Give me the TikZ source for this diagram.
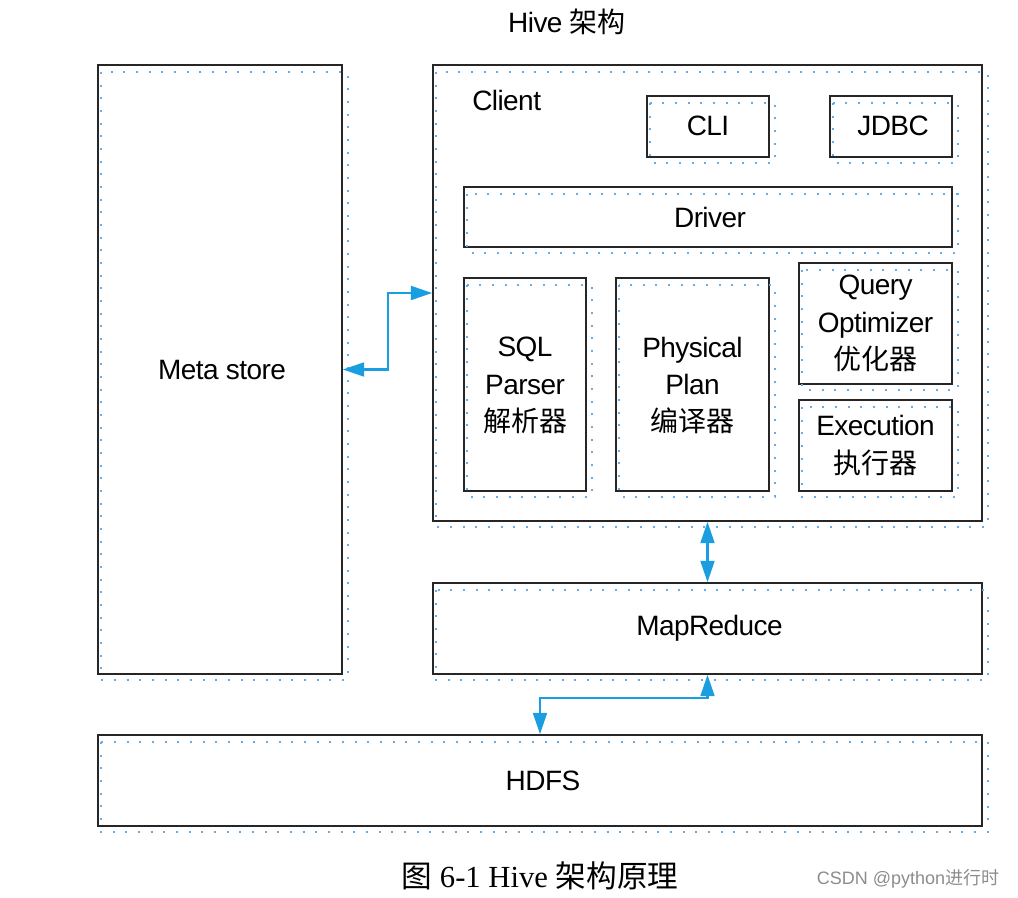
\documentclass[tikz,border=0pt]{standalone}
\usepackage{fontspec}
\setmainfont{Liberation Sans}[LetterSpace=-2]
\newfontfamily\cjk{Noto Sans CJK SC}
\newfontfamily\capserif{Liberation Serif}
\newfontfamily\wmfont{Liberation Sans}
\usetikzlibrary{arrows.meta,fit}
\definecolor{arrowblue}{RGB}{27,158,224}
\definecolor{gridblue}{RGB}{50,145,230}
\begin{document}
\begin{tikzpicture}[x=0.75pt,y=-0.75pt,
  box/.style={draw=black!85, line width=1.3pt, inner sep=0pt},
  lbl/.style={inner sep=0pt, align=center, font=\fontsize{21}{28}\selectfont},
  gridline/.style={draw=gridblue!75, line width=1pt, dash pattern=on 1.5pt off 8pt},
  biarrow/.style={draw=arrowblue, line width=1.6pt,
    {Triangle[length=16pt,width=10.5pt]}-{Triangle[length=16pt,width=10.5pt]}}
]
\useasboundingbox (0,0) rectangle (1018,898);

\node[lbl] (title) at (567,22) {Hive {\cjk 架构}};

\node[box, fit={(98,65)(342,674)}] (meta) {};
\node[box, fit={(433,65)(982,521)}] (client) {};
\node[box, fit={(647,96)(769,157)}] (cli) {};
\node[box, fit={(830,96)(952,157)}] (jdbc) {};
\node[box, fit={(464,187)(952,247)}] (driver) {};
\node[box, fit={(464,278)(586,491)}] (sql) {};
\node[box, fit={(616,278)(769,491)}] (plan) {};
\node[box, fit={(799,263)(952,384)}] (opt) {};
\node[box, fit={(799,400)(952,491)}] (exec) {};
\node[box, fit={(433,583)(982,674)}] (mr) {};
\node[box, fit={(98,735)(982,826)}] (hdfs) {};

\node[lbl] (metatxt) at ([shift={(2,1)}]meta.center) {Meta store};
\node[lbl, anchor=base west] (clienttxt) at (472,111) {Client};
\node[lbl] (clitxt) at ([shift={(0,-1)}]cli.center) {CLI};
\node[lbl] (jdbctxt) at ([shift={(2,-1)}]jdbc.center) {JDBC};
\node[lbl] (drivertxt) at ([shift={(2,0)}]driver.center) {Driver};
\node[lbl] (sqltxt) at ([shift={(0,1)}]sql.center) {SQL\\Parser\\{\cjk 解析器}};
\node[lbl] (plantxt) at ([shift={(0,1)}]plan.center) {Physical\\Plan\\{\cjk 编译器}};
\node[lbl] (opttxt) at (opt.center) {Query\\Optimizer\\{\cjk 优化器}};
\node[lbl] (exectxt) at (exec.center) {Execution\\{\cjk 执行器}};
\node[lbl] (mrtxt) at ([shift={(2,0)}]mr.center) {MapReduce};
\node[lbl] (hdfstxt) at ([shift={(3,0)}]hdfs.center) {HDFS};

\foreach \n in {meta,client,cli,jdbc,driver,sql,plan,opt,exec,mr,hdfs}{
  \draw[gridline] ([shift={(4,8)}]\n.north west) rectangle ([shift={(5,5)}]\n.south east);
}

\draw[biarrow] (meta.east) -- ++(45,0) |- (client.west);
\draw[biarrow] (client.south) -- (mr.north);
\draw[biarrow] (mr.south) -- ++(0,23) -| (hdfs.north);

\node[inner sep=0pt, font=\fontsize{23}{28}\selectfont] (caption) at (540,876)
  {{\cjk 图}\capserif{} 6-1 Hive {\cjk 架构原理}};
\node[inner sep=0pt, text=black!45, font=\fontsize{13.5}{16}\selectfont] (wm) at (908,879)
  {\wmfont CSDN @python{\cjk 进行时}};
\end{tikzpicture}
\end{document}
